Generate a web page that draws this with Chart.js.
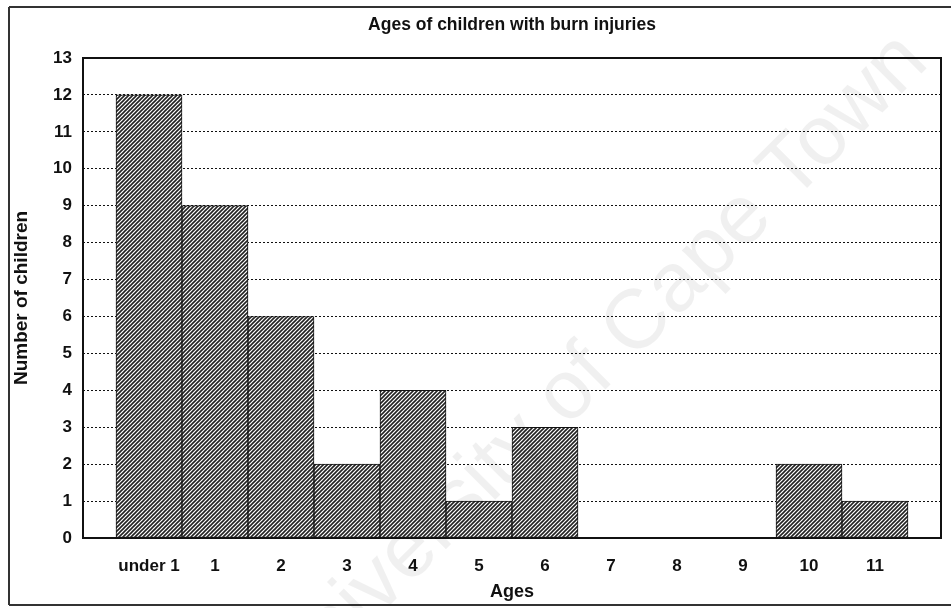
<!DOCTYPE html>
<html>
<head>
<meta charset="utf-8">
<title>Ages of children with burn injuries</title>
<script src="https://cdn.jsdelivr.net/npm/chart.js@4/dist/chart.umd.min.js"></script>
<style>
  html, body { margin: 0; padding: 0; background: #fff; }
  #burnChart { display: block; }
</style>
</head>
<body>
<canvas id="burnChart" width="951" height="608"></canvas>
<script>
// values
const ageGroups = ['under 1', '1', '2', '3', '4', '5', '6', '7', '8', '9', '10', '11'];
const childCounts = [12, 9, 6, 2, 4, 1, 3, 0, 0, 0, 2, 1];
const yMin = 0;
const yMax = 13;

// half an empty slot either side of the bars, like the original
const xLabels = [''].concat(ageGroups, ['']);
const barData = [null].concat(childCounts, [null]);

// diagonal hatch fill for the bars
function makeHatch() {
  var c = document.createElement('canvas');
  c.width = 4;
  c.height = 4;
  var g = c.getContext('2d');
  g.fillStyle = '#fff';
  g.fillRect(0, 0, 4, 4);
  g.strokeStyle = '#222';
  g.lineWidth = 1.6;
  g.beginPath();
  g.moveTo(-1, 1); g.lineTo(1, -1);
  g.moveTo(0, 4); g.lineTo(4, 0);
  g.moveTo(3, 5); g.lineTo(5, 3);
  g.stroke();
  return g.createPattern(c, 'repeat');
}

// scanned page frame + faint watermark
const pageFrame = {
  id: 'pageFrame',
  beforeDraw(chart) {
    const ctx = chart.ctx;
    ctx.save();
    ctx.fillStyle = '#fff';
    ctx.fillRect(0, 0, chart.width, chart.height);
    ctx.strokeStyle = '#333';
    ctx.lineWidth = 2;
    ctx.beginPath();
    ctx.moveTo(9, 7); ctx.lineTo(chart.width, 7);
    ctx.moveTo(9, 7); ctx.lineTo(9, 605);
    ctx.moveTo(9, 605); ctx.lineTo(chart.width, 605);
    ctx.stroke();
    ctx.restore();
  },
  afterDatasetsDraw(chart) {
    const ctx = chart.ctx;
    const a = chart.chartArea;
    ctx.save();
    ctx.strokeStyle = '#111';
    ctx.lineWidth = 2;
    ctx.strokeRect(a.left, a.top, a.right - a.left, a.bottom - a.top);
    ctx.restore();
  },
  afterDraw(chart) {
    const ctx = chart.ctx;
    ctx.save();
    ctx.translate(290, 705);
    ctx.rotate(-Math.PI / 4);
    ctx.font = '84px "Liberation Sans"';
    ctx.fillStyle = 'rgba(0,0,0,0.06)';
    ctx.textBaseline = 'alphabetic';
    ctx.fillText('University of Cape Town', 0, 0);
    ctx.restore();
  }
};

Chart.defaults.font.family = '"Liberation Sans", Arial, sans-serif';
Chart.defaults.color = '#111';

var ctx = document.getElementById('burnChart').getContext('2d');
var chart = new Chart(ctx, {
  type: 'bar',
  data: {
    labels: xLabels,
    datasets: [{
      label: 'Number of children',
      data: barData,
      backgroundColor: makeHatch(),
      borderColor: '#111',
      borderWidth: 1,
      borderSkipped: false,
      categoryPercentage: 1.0,
      barPercentage: 1.0
    }]
  },
  options: {
    responsive: false,
    animation: false,
    layout: { padding: { left: 0, right: 8, top: 0, bottom: 0 } },
    plugins: {
      legend: { display: false },
      tooltip: { enabled: false },
      title: {
        display: true,
        text: 'Ages of children with burn injuries',
        fullSize: false,
        font: { size: 17.5, weight: 'bold', lineHeight: 1.2 },
        color: '#111',
        padding: { top: 15, bottom: 22 }
      }
    },
    scales: {
      x: {
        offset: false,
        grid: { display: false },
        border: { display: false },
        ticks: {
          autoSkip: false,
          maxRotation: 0,
          padding: 10,
          font: { size: 17, weight: 'bold' },
          color: '#111'
        },
        title: {
          display: true,
          text: 'Ages',
          font: { size: 18, weight: 'bold', lineHeight: 1.2 },
          color: '#111',
          padding: { top: 0, bottom: 5 }
        },
        afterFit(scale) { scale.height = 70; }
      },
      y: {
        min: yMin,
        max: yMax,
        grid: { color: '#111', lineWidth: 1, drawTicks: false },
        border: { display: false, dash: [2, 2] },
        ticks: {
          stepSize: 1,
          padding: 11,
          font: { size: 17, weight: 'bold' },
          color: '#111'
        },
        title: {
          display: true,
          text: 'Number of children',
          font: { size: 19, weight: 'bold', lineHeight: 1.2 },
          color: '#111',
          padding: { top: 10, bottom: 0 }
        },
        afterFit(scale) { scale.width = 83; }
      }
    }
  },
  plugins: [pageFrame]
});
</script>
</body>
</html>
